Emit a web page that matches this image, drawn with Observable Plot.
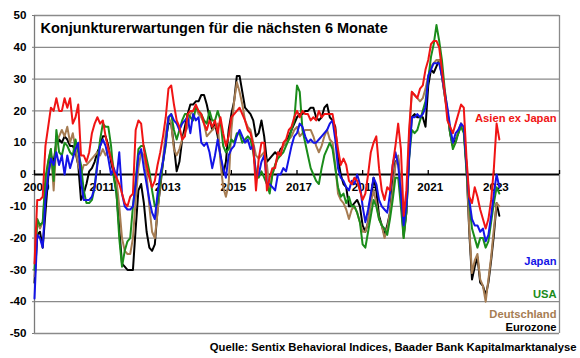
<!DOCTYPE html>
<html>
<head>
<meta charset="utf-8">
<script src="https://cdn.jsdelivr.net/npm/d3@7"></script>
<script src="https://cdn.jsdelivr.net/npm/@observablehq/plot@0.6"></script>
<style>
  html, body { margin: 0; padding: 0; background: #fff; }
  #chart { width: 580px; height: 358px; }
</style>
</head>
<body>
<div id="chart"></div>
<script>
// ---- data (monthly, Jan 2009 onwards) ----
const startYear = 2009;
const seriesNames = ["Eurozone", "Deutschland", "USA", "Japan", "Asien ex Japan"];
const seriesColors = ["#000000", "#a67c52", "#1a8c1a", "#1414e6", "#f01414"];

const asien = [
 -28,-8,-8,-7,9,15,21,20,24,20,
 20,24,21,24,16,18,22,6,6,4,
 7,13,16,18,16,17,12,8,5,1,
 -1,-3,-6,-9,-10,-7,-6,14,17,16,
 8,3,-1,-4,-2,3,7,12,18,27,
 28,22,17,15,11,12,19,20,20,22,
 20,19,16,14,17,15,17,13,18,13,
 9,12,18,19,20,21,19,17,14,13,
 9,-5,5,10,10,-5,-1,2,2,7,
 6,10,11,14,15,18,20,18,20,19,
 19,17,18,17,20,18,19,19,19,19,
 14,8,3,5,3,-2,-3,-1,-2,-5,
 -8,-6,0,7,10,12,2,-5,-8,-4,
 -5,3,9,16,8,-13,-5,14,26,25,
 24,27,28,33,36,41,42,42,40,33,
 26,17,15,13,16,19,22,21,5,-7,
 -9,-4,-7,-11,-14,-17,-14,-8,2,16,
 11];

const japan = [
 -39,-19,-20,-23,-8,0,5,3,7,3,
 6,0,6,2,5,8,10,-2,-8,-8,
 -8,-7,-4,3,9,11,9,5,0,2,
 -1,7,-6,-10,-11,-11,-10,-3,6,8,
 2,-3,-8,-12,-14,-6,0,4,10,18,
 19,17,16,14,16,17,18,13,19,17,
 18,10,9,10,7,2,6,11,6,2,
 -1,6,8,9,12,14,12,10,11,8,
 9,-1,0,4,6,-3,-3,-4,-5,0,
 0,2,1,5,9,12,13,16,15,12,
 10,11,10,10,11,12,13,14,16,17,
 11,2,-1,-2,-4,-5,-2,-3,0,-3,
 -10,-15,-11,-6,-1,-3,-8,-10,-11,-12,
 -6,3,7,3,-6,-16,-10,5,18,18,
 19,18,19,21,31,33,35,35,35,31,
 26,21,15,10,13,14,16,15,3,-8,
 -14,-16,-16,-18,-17,-21,-19,-13,-6,0,
 -4];

const usa = [
 -30,-14,-16,-15,-1,4,8,-2,14,7,
 6,10,9,7,6,11,7,3,-5,-9,
 -9,-8,-4,4,11,16,15,15,9,-1,
 -6,-20,-29,-24,-21,-20,-10,-2,8,9,
 9,5,1,-5,-10,-9,-2,4,9,18,
 19,14,11,14,17,19,19,18,17,21,
 20,19,17,16,20,17,17,20,17,9,
 7,8,11,10,13,13,10,11,12,11,
 7,1,-1,1,-1,-3,-6,0,3,5,
 6,7,9,11,14,17,28,26,14,10,
 6,2,0,-2,-3,2,6,8,10,8,
 2,-4,-7,-6,-9,-7,-10,-10,-12,-15,
 -22,-23,-18,-13,-8,-10,-14,-16,-17,-19,
 -14,-8,-1,-1,-10,-20,-12,5,14,13,
 14,17,20,23,30,37,41,47,42,36,
 27,20,13,8,10,13,15,13,1,-9,
 -17,-20,-23,-20,-20,-23,-21,-15,-9,-4,
 -6];

const deutschland = [
 -32,-15,-17,-15,-4,4,8,-5,10,12,
 14,12,15,10,13,8,3,0,3,3,
 4,5,6,7,6,8,6,8,6,2,
 -2,-10,-20,-24,-25,-25,-20,-8,2,7,
 6,0,-10,-18,-20,-12,-3,5,13,18,
 16,8,6,8,11,13,15,19,20,21,
 19,18,16,12,13,14,15,16,4,-4,
 -7,-3,14,23,29,26,22,17,15,14,
 10,6,5,6,7,3,-5,0,3,6,
 7,9,10,11,12,14,15,12,13,14,
 14,14,12,9,7,9,12,14,11,10,
 3,-6,-8,-9,-11,-14,-11,-10,-12,-15,
 -18,-18,-15,-9,-5,-9,-14,-16,-20,-17,
 -12,-5,3,6,-6,-20,-10,12,26,25,
 24,23,24,27,31,34,35,36,36,31,
 25,19,13,9,10,14,16,14,3,-17,
 -31,-27,-25,-33,-35,-40,-33,-26,-17,-9,
 -10];

const eurozone = [
 -34,-19,-18,-23,-12,-1,6,4,10,11,
 10,12,11,9,9,7,3,-8,-6,-3,
 1,2,4,7,9,12,12,9,4,0,
 -6,-17,-28,-29,-30,-30,-30,-17,-5,-3,
 -9,-18,-23,-24,-22,-11,-4,4,11,16,
 16,9,1,4,11,15,19,22,22,23,
 23,25,25,22,18,14,16,12,6,0,
 4,14,19,23,31,31,26,21,20,19,
 17,12,13,17,12,4,5,6,7,6,
 8,9,10,12,14,16,18,19,19,20,
 20,21,21,18,17,18,21,22,18,17,
 15,5,0,-3,-4,-10,-10,-9,-8,-10,
 -16,-18,-15,-8,-1,-5,-13,-16,-19,-16,
 -12,-3,4,5,-6,-19,-12,6,18,19,
 18,18,18,15,28,33,32,34,36,31,
 25,20,13,9,11,13,16,14,2,-18,
 -33,-29,-26,-34,-35,-38,-34,-27,-19,-9,
 -13];

const seriesValues = [eurozone, deutschland, usa, japan, asien];

const yTicks = [-50,-40,-30,-20,-10,0,10,20,30,40,50];
const xTickYears = [2009, 2011, 2013, 2015, 2017, 2019, 2021, 2023, 2025];
const xTickLabels = ["2009", "2011", "2013", "2015", "2017", "2019", "2021", "2023"];

const titleText = "Konjunkturerwartungen für die nächsten 6 Monate";
const captionText = "Quelle: Sentix Behavioral Indices, Baader Bank Kapitalmarktanalyse";

// label placement (offsets from frame top)
const labelOffsets = {"Asien ex Japan": 102.5, "Japan": 246, "USA": 279, "Deutschland": 298.5, "Eurozone": 311.5};

// ---- build table ----
const rows = [];
seriesNames.forEach((name, s) => {
  seriesValues[s].forEach((v, i) => rows.push({series: name, year: startYear + i / 12, value: v}));
});

const font = "'Liberation Sans', Arial, Helvetica, sans-serif";

const lineMarks = seriesNames.map((name, s) =>
  Plot.line(rows.filter(r => r.series === name), {
    x: "year", y: "value", stroke: seriesColors[s], strokeWidth: 2,
    strokeLinejoin: "round", strokeLinecap: "round"
  })
);

const labelMarks = seriesNames.map((name, s) =>
  Plot.text([name], {
    frameAnchor: "top-right", text: d => d, dx: -3, dy: labelOffsets[name],
    textAnchor: "end", lineAnchor: "middle", fill: seriesColors[s],
    fontSize: 11.2, fontWeight: "bold"
  })
);

const chart = Plot.plot({
  width: 580,
  height: 358,
  marginTop: 15,
  marginBottom: 25,
  marginLeft: 34,
  marginRight: 21,
  x: {domain: [2009, 2025], axis: null},
  y: {domain: [-50, 50], axis: null},
  style: {fontFamily: font, fontWeight: "bold", background: "#fff", overflow: "visible"},
  marks: [
    Plot.ruleY(yTicks.filter(d => d !== 0), {stroke: "#8a8a8a", strokeWidth: 1.3}),
    Plot.ruleX([2025], {stroke: "#8a8a8a", strokeWidth: 1.3}),
    Plot.ruleX([2009], {stroke: "#7a7a7a", strokeWidth: 1.3}),
    Plot.axisY(yTicks, {tickSize: 2, tickPadding: 6, fontSize: 11.6, fontWeight: "bold",
      tickFormat: d => String(d), label: null, fill: "#000", stroke: "#7a7a7a"}),
    Plot.text(xTickLabels, {x: d => +d, y: 0, text: d => d, dy: 13, dx: 2,
      fontSize: 11.6, fontWeight: "bold", fill: "#000"}),
    Plot.ruleY([0], {stroke: "#000", strokeWidth: 2}),
    Plot.ruleX(xTickYears, {x: d => d, y1: 0, y2: 0, insetBottom: 4, stroke: "#000", strokeWidth: 1.3}),
    ...lineMarks,
    ...labelMarks,
    Plot.text([titleText], {frameAnchor: "top-left", text: d => d, dx: 6, dy: 12.5,
      textAnchor: "start", lineAnchor: "middle", fontSize: 14.5, fontWeight: "bold", fill: "#000"}),
    Plot.text([captionText], {frameAnchor: "bottom-right", text: d => d, dx: 17, dy: 14,
      textAnchor: "end", lineAnchor: "middle", fontSize: 11.3, fontWeight: "bold", fill: "#000"})
  ]
});

document.getElementById("chart").appendChild(chart);
</script>
</body>
</html>
